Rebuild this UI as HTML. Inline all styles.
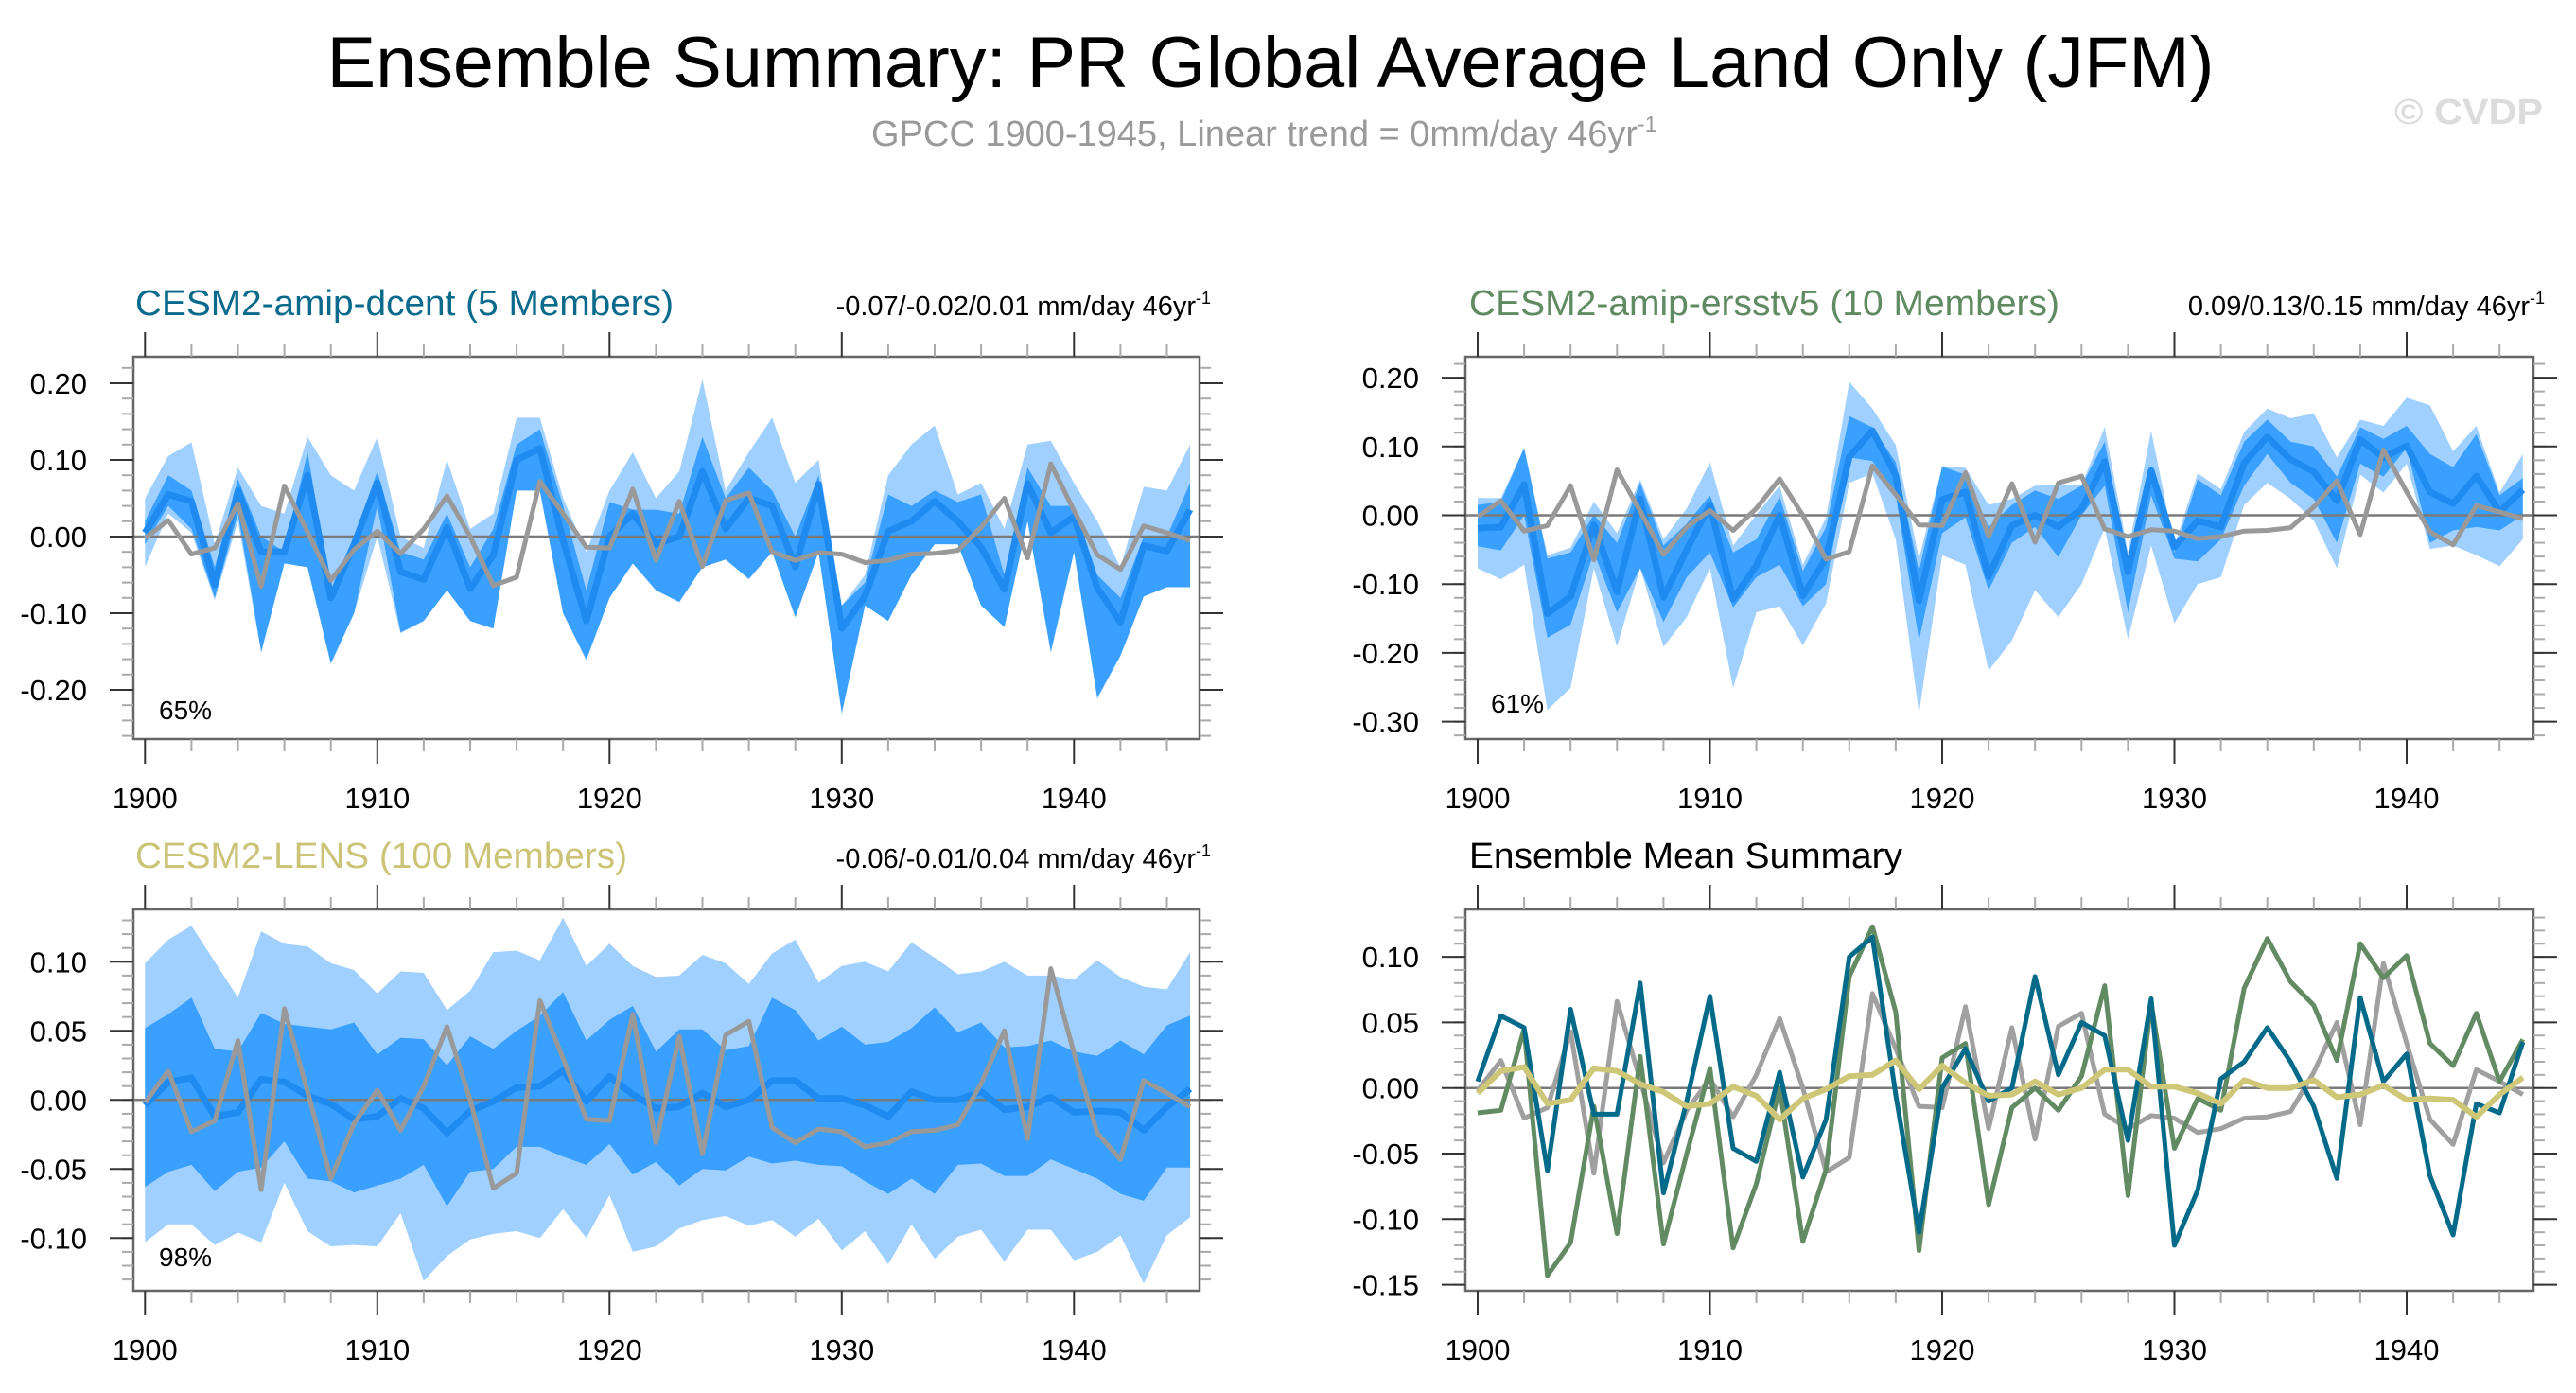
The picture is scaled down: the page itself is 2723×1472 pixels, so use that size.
<!DOCTYPE html>
<html><head><meta charset="utf-8"><style>
html,body{margin:0;padding:0;background:#fff}
svg{display:block;font-family:"Liberation Sans",Arial,sans-serif}
</style></head><body>
<svg id="chart" width="2723" height="1472" viewBox="0 0 2723 1472" xmlns="http://www.w3.org/2000/svg">
<rect x="0" y="0" width="2723" height="1472" fill="#fff"/>
<text x="1343" y="92" font-size="76" text-anchor="middle" textLength="1995" lengthAdjust="spacingAndGlyphs" fill="#000">Ensemble Summary: PR Global Average Land Only (JFM)</text>
<text x="921" y="154" font-size="38" fill="#999">GPCC 1900-1945, Linear trend = 0mm/day 46yr<tspan dy="-15" font-size="23">-1</tspan></text>
<text x="2688" y="131" font-size="38" font-weight="bold" text-anchor="end" fill="#dcdcdc" textLength="157" lengthAdjust="spacingAndGlyphs">© CVDP</text>
</svg>
<script>
const years = [1900,1901,1902,1903,1904,1905,1906,1907,1908,1909,1910,1911,1912,1913,1914,1915,1916,1917,1918,1919,1920,1921,1922,1923,1924,1925,1926,1927,1928,1929,1930,1931,1932,1933,1934,1935,1936,1937,1938,1939,1940,1941,1942,1943,1944,1945];
const obsGPCC = [-0.002,0.021,-0.023,-0.015,0.043,-0.065,0.066,0.006,-0.057,-0.017,0.007,-0.022,0.01,0.053,0,-0.064,-0.053,0.072,0.03,-0.014,-0.015,0.062,-0.031,0.046,-0.039,0.047,0.057,-0.02,-0.031,-0.021,-0.023,-0.034,-0.031,-0.023,-0.022,-0.018,0.012,0.05,-0.028,0.095,0.034,-0.024,-0.043,0.014,0.005,-0.005];
const dcentMean = [0.005,0.055,0.046,-0.063,0.06,-0.02,-0.02,0.08,-0.08,-0.01,0.07,-0.046,-0.056,0.012,-0.068,-0.024,0.10,0.115,-0.005,-0.11,0,0.03,-0.01,0,0.085,0.01,0.05,0.04,-0.04,0.068,-0.12,-0.078,0.007,0.02,0.046,0.02,-0.014,-0.069,0.069,0.005,0.026,-0.067,-0.112,-0.012,-0.019,0.035];
const dcentDarkHi = [0.02,0.08,0.06,-0.04,0.075,0,-0.02,0.11,-0.07,0,0.085,-0.02,-0.03,0.03,-0.04,0.01,0.12,0.14,0.04,-0.07,0.045,0.035,0.035,0.03,0.13,0.05,0.09,0.06,0,0.08,-0.09,-0.06,0.055,0.04,0.06,0.045,0.055,-0.05,0.09,0.04,0.04,-0.05,-0.08,0,0,0.07];
const dcentDarkLo = [-0.01,0.04,0.01,-0.08,0.03,-0.15,-0.035,-0.04,-0.165,-0.1,0.04,-0.125,-0.11,-0.07,-0.11,-0.12,0.06,0.06,-0.1,-0.16,-0.08,-0.035,-0.07,-0.085,-0.04,-0.03,-0.055,-0.02,-0.105,-0.02,-0.23,-0.09,-0.11,-0.05,-0.01,-0.01,-0.09,-0.118,0.02,-0.15,-0.02,-0.21,-0.155,-0.078,-0.066,-0.066];
const dcentLightHi = [0.05,0.105,0.123,-0.01,0.09,0.04,0.03,0.13,0.08,0.06,0.13,0,-0.015,0.1,0.01,0.03,0.155,0.155,0.05,-0.02,0.06,0.11,0.05,0.085,0.205,0.06,0.11,0.155,0.07,0.1,-0.09,-0.05,0.08,0.12,0.145,0.055,0.07,0.01,0.12,0.125,0.07,0.02,-0.04,0.065,0.06,0.12];
const dcentLightLo = [-0.04,0.03,0.005,-0.083,0.02,-0.152,-0.035,-0.04,-0.167,-0.1,0,-0.126,-0.11,-0.07,-0.11,-0.12,0.06,0.06,-0.1,-0.162,-0.08,-0.035,-0.07,-0.086,-0.04,-0.03,-0.056,-0.02,-0.106,-0.02,-0.232,-0.09,-0.11,-0.05,-0.01,-0.01,-0.09,-0.118,0.02,-0.152,-0.02,-0.212,-0.156,-0.078,-0.066,-0.066];
const ersstMean = [-0.019,-0.017,0.045,-0.143,-0.118,-0.014,-0.111,0.024,-0.119,-0.05,0.015,-0.122,-0.073,0,-0.117,-0.062,0.085,0.123,0.058,-0.124,0.023,0.034,-0.089,-0.015,0,-0.017,0.009,0.078,-0.082,0.065,-0.046,-0.008,-0.017,0.076,0.114,0.081,0.063,0.021,0.11,0.084,0.101,0.034,0.017,0.057,0.005,0.037];
const ersstLightHi = [0.025,0.025,0.098,-0.058,-0.047,0.02,-0.026,0.052,-0.035,0.01,0.077,-0.044,0.001,0.043,-0.072,-0.003,0.194,0.155,0.102,-0.063,0.071,0.069,0.015,0.024,0.043,0.045,0.043,0.128,-0.054,0.123,-0.044,0.061,0.038,0.121,0.155,0.141,0.148,0.084,0.139,0.13,0.171,0.16,0.093,0.13,0.033,0.089];
const ersstDarkHi = [0.015,0.02,0.098,-0.063,-0.054,0.001,-0.04,0.047,-0.044,-0.012,0.029,-0.054,-0.035,0.027,-0.081,-0.017,0.144,0.128,0.077,-0.081,0.071,0.059,-0.017,0.015,0.036,0.024,0.043,0.107,-0.077,0.07,-0.054,0.052,0.029,0.107,0.139,0.107,0.1,0.056,0.128,0.111,0.13,0.089,0.07,0.118,0.029,0.054];
const ersstDarkLo = [-0.045,-0.051,0,-0.178,-0.159,-0.054,-0.141,-0.077,-0.155,-0.09,-0.054,-0.134,-0.09,-0.072,-0.132,-0.1,0.084,0.079,0.029,-0.182,-0.026,-0.003,-0.109,-0.04,-0.017,-0.061,0,0.043,-0.141,0.029,-0.063,-0.067,-0.035,0.043,0.089,0.047,0.024,-0.04,0.075,0.056,0.098,-0.04,-0.022,-0.017,-0.022,0];
const ersstLightLo = [-0.077,-0.093,-0.072,-0.283,-0.251,-0.077,-0.191,-0.077,-0.191,-0.148,-0.077,-0.251,-0.141,-0.132,-0.189,-0.128,0.047,0.061,-0.035,-0.288,-0.058,-0.072,-0.226,-0.182,-0.109,-0.148,-0.1,-0.019,-0.18,-0.044,-0.157,-0.1,-0.09,0.015,0.047,0.024,-0.008,-0.077,0.059,0.033,0.075,-0.049,-0.044,-0.058,-0.074,-0.035];
const lensMean = [-0.004,0.013,0.016,-0.012,-0.009,0.015,0.013,0.003,-0.003,-0.014,-0.012,0.001,-0.006,-0.024,-0.008,-0.001,0.009,0.01,0.021,-0.001,0.017,0.004,-0.006,-0.005,0.005,-0.005,0,0.014,0.014,0.001,0.001,-0.004,-0.012,0.006,0,0,0.006,-0.007,-0.005,0.002,-0.009,-0.008,-0.009,-0.022,-0.005,0.008];
const lensLightHi = [0.099,0.116,0.126,0.1,0.074,0.122,0.113,0.111,0.099,0.094,0.077,0.093,0.092,0.065,0.079,0.107,0.108,0.101,0.132,0.097,0.113,0.097,0.089,0.09,0.105,0.099,0.084,0.106,0.116,0.085,0.097,0.1,0.093,0.114,0.103,0.091,0.093,0.1,0.09,0.09,0.087,0.101,0.089,0.082,0.08,0.107];
const lensDarkHi = [0.052,0.062,0.074,0.037,0.035,0.063,0.055,0.053,0.051,0.056,0.033,0.045,0.044,0.025,0.046,0.037,0.05,0.061,0.078,0.043,0.058,0.068,0.035,0.051,0.051,0.036,0.039,0.074,0.065,0.043,0.053,0.04,0.042,0.052,0.067,0.049,0.056,0.038,0.039,0.043,0.035,0.032,0.043,0.033,0.054,0.061];
const lensDarkLo = [-0.063,-0.052,-0.047,-0.066,-0.052,-0.049,-0.03,-0.057,-0.059,-0.067,-0.062,-0.057,-0.047,-0.077,-0.052,-0.05,-0.034,-0.034,-0.041,-0.047,-0.032,-0.054,-0.045,-0.062,-0.05,-0.051,-0.041,-0.046,-0.044,-0.047,-0.048,-0.059,-0.068,-0.057,-0.068,-0.047,-0.046,-0.055,-0.055,-0.043,-0.05,-0.057,-0.068,-0.073,-0.049,-0.049];
const lensLightLo = [-0.103,-0.09,-0.09,-0.105,-0.096,-0.103,-0.06,-0.095,-0.106,-0.105,-0.106,-0.082,-0.131,-0.113,-0.101,-0.097,-0.095,-0.1,-0.079,-0.1,-0.069,-0.11,-0.106,-0.093,-0.087,-0.084,-0.091,-0.087,-0.099,-0.086,-0.109,-0.095,-0.119,-0.09,-0.115,-0.099,-0.094,-0.117,-0.094,-0.094,-0.116,-0.11,-0.098,-0.133,-0.098,-0.085];
const ticks1 = [0.20,0.10,0.00,-0.10,-0.20];
const tickLabels1 = ["0.20","0.10","0.00","-0.10","-0.20"];
const ticks2 = [0.20,0.10,0.00,-0.10,-0.20,-0.30];
const tickLabels2 = ["0.20","0.10","0.00","-0.10","-0.20","-0.30"];
const ticks3 = [0.10,0.05,0.00,-0.05,-0.10];
const tickLabels3 = ["0.10","0.05","0.00","-0.05","-0.10"];
const ticks4 = [0.10,0.05,0.00,-0.05,-0.10,-0.15];
const tickLabels4 = ["0.10","0.05","0.00","-0.05","-0.10","-0.15"];
const xTicks = [1900,1910,1920,1930,1940];
const xTickLabels = ["1900","1910","1920","1930","1940"];

const NS = "http://www.w3.org/2000/svg";
const svg = document.getElementById('chart');
function mk(tag, attrs, parent){
  const e = document.createElementNS(NS, tag);
  for (const k in attrs) e.setAttribute(k, attrs[k]);
  (parent||svg).appendChild(e);
  return e;
}
const C_LIGHT="#a0d0ff", C_DARK="#3aa0ff", C_MEAN="#1f8af0", C_OBS="#999999";

function panel(p){
  const g = mk('g', {});
  
  
  const xs = yr => p.x1900 + (yr - 1900) * p.dx;
  const ys = v => p.y0 - v * p.pxPerUnit;
  const clipId = p.name + '-clip';
  const cp = mk('clipPath', {id: clipId}, g);
  mk('rect', {x:p.left, y:p.top, width:p.right-p.left, height:p.bottom-p.top}, cp);
  const plot = mk('g', {'clip-path':'url(#'+clipId+')'}, g);
  
  
  function band(hi, lo, color, nm){
    let d = '';
    hi.forEach((v,i)=>{ d += (i?'L':'M') + xs(years[i]).toFixed(1) + ',' + ys(v).toFixed(1); });
    for (let i=lo.length-1;i>=0;i--) d += 'L' + xs(years[i]).toFixed(1) + ',' + ys(lo[i]).toFixed(1);
    const e = mk('path', {d: d+'Z', fill: color, stroke:'none'}, plot);
    
    
  }
  function line(vals, color, w, nm){
    const pts = vals.map((v,i)=> xs(years[i]).toFixed(1)+','+ys(v).toFixed(1)).join(' ');
    const e = mk('polyline', {points:pts, fill:'none', stroke:color, 'stroke-width':w, 'stroke-linejoin':'round'}, plot);
    
    
  }
  if (p.bands) {
    band(p.bands[0], p.bands[3], C_LIGHT, 'outer-spread-band');
    band(p.bands[1], p.bands[2], C_DARK, 'inner-spread-band');
  }
  const zl = mk('line', {x1:p.left, x2:p.right, y1:ys(0), y2:ys(0), stroke:'#7a7a7a', 'stroke-width':2.5}, plot);
  
  
  p.lines.forEach(l => line(l.v, l.c, l.w, l.n));
  const fr = mk('rect', {x:p.left, y:p.top, width:p.right-p.left, height:p.bottom-p.top, fill:'none', stroke:'#666', 'stroke-width':2.5}, g);
  
  
  const vTop = (p.y0 - p.top)/p.pxPerUnit, vBot = (p.y0 - p.bottom)/p.pxPerUnit;
  for (let k = Math.ceil(vBot/p.minor - 1e-6); k*p.minor <= vTop + 1e-9; k++){
    const y = ys(k*p.minor);
    mk('line', {x1:p.left-12, x2:p.left, y1:y, y2:y, stroke:'#aaa', 'stroke-width':2}, g);
    mk('line', {x1:p.right, x2:p.right+12, y1:y, y2:y, stroke:'#aaa', 'stroke-width':2}, g);
  }
  p.ticks.forEach((v,i)=>{
    const y = ys(v);
    mk('line', {x1:p.left-25, x2:p.left, y1:y, y2:y, stroke:'#333', 'stroke-width':2}, g);
    mk('line', {x1:p.right, x2:p.right+25, y1:y, y2:y, stroke:'#333', 'stroke-width':2}, g);
    const t = mk('text', {x:p.left-49, y:y+11, 'font-size':31, 'text-anchor':'end', fill:'#000'}, g);
    
    
    t.textContent = p.tickLabels[i];
  });
  years.forEach(yr=>{
    if (yr % 2 !== 0 || yr % 10 === 0) return;
    const x = xs(yr);
    mk('line', {x1:x, x2:x, y1:p.bottom, y2:p.bottom+13, stroke:'#aaa', 'stroke-width':2}, g);
    mk('line', {x1:x, x2:x, y1:p.top-13, y2:p.top, stroke:'#aaa', 'stroke-width':2}, g);
  });
  xTicks.forEach((yr,i)=>{
    const x = xs(yr);
    mk('line', {x1:x, x2:x, y1:p.bottom, y2:p.bottom+26, stroke:'#333', 'stroke-width':2}, g);
    mk('line', {x1:x, x2:x, y1:p.top-26, y2:p.top, stroke:'#333', 'stroke-width':2}, g);
    const t = mk('text', {x:x, y:p.bottom+73, 'font-size':31, 'text-anchor':'middle', fill:'#000'}, g);
    
    
    t.textContent = xTickLabels[i];
  });
  const tt = mk('text', {x:p.titleX, y:p.top-44, 'font-size':38, fill:p.titleColor, textLength:p.titleW, lengthAdjust:'spacingAndGlyphs'}, g);
  
  
  tt.textContent = p.title;
  if (p.trend) {
    const tr = mk('text', {x:p.right+12, y:p.top-44, 'font-size':29, 'text-anchor':'end', fill:'#000'}, g);
    
    
    tr.appendChild(document.createTextNode(p.trend + ' mm/day 46yr'));
    const sup = mk('tspan', {dy:-12, 'font-size':18}, tr);
    sup.textContent = '-1';
  }
  if (p.pct) {
    const pc = mk('text', {x:p.left+27, y:p.pctY, 'font-size':28, fill:'#000'}, g);
    
    
    pc.textContent = p.pct;
  }
}

panel({name:'panel-cesm2-amip-dcent', left:141, right:1268, top:377, bottom:781, x1900:153.3, dx:24.55, y0:567, pxPerUnit:810, minor:0.02,
  ticks:ticks1, tickLabels:tickLabels1, title:'CESM2-amip-dcent (5 Members)', titleX:143, titleW:569, titleColor:'#0a6a8c', trend:'-0.07/-0.02/0.01', pct:'65%', pctY:760,
  bands:[dcentLightHi, dcentDarkHi, dcentDarkLo, dcentLightLo],
  lines:[{v:dcentMean,c:C_MEAN,w:7,n:'ensemble-mean-line'},{v:obsGPCC,c:C_OBS,w:5,n:'gpcc-observed-line'}]});
panel({name:'panel-cesm2-amip-ersstv5', left:1549, right:2678, top:377, bottom:781, x1900:1562, dx:24.55, y0:544.5, pxPerUnit:727, minor:0.02,
  ticks:ticks2, tickLabels:tickLabels2, title:'CESM2-amip-ersstv5 (10 Members)', titleX:1553, titleW:624, titleColor:'#5f8a62', trend:'0.09/0.13/0.15', pct:'61%', pctY:753,
  bands:[ersstLightHi, ersstDarkHi, ersstDarkLo, ersstLightLo],
  lines:[{v:ersstMean,c:C_MEAN,w:7,n:'ensemble-mean-line'},{v:obsGPCC,c:C_OBS,w:5,n:'gpcc-observed-line'}]});
panel({name:'panel-cesm2-lens', left:141, right:1268, top:961, bottom:1364, x1900:153.3, dx:24.55, y0:1162.3, pxPerUnit:1460, minor:0.01,
  ticks:ticks3, tickLabels:tickLabels3, title:'CESM2-LENS (100 Members)', titleX:143, titleW:520, titleColor:'#cbc477', trend:'-0.06/-0.01/0.04', pct:'98%', pctY:1338,
  bands:[lensLightHi, lensDarkHi, lensDarkLo, lensLightLo],
  lines:[{v:lensMean,c:C_MEAN,w:7,n:'ensemble-mean-line'},{v:obsGPCC,c:C_OBS,w:5,n:'gpcc-observed-line'}]});
panel({name:'panel-ensemble-mean-summary', left:1549, right:2678, top:961, bottom:1364, x1900:1562, dx:24.55, y0:1149.7, pxPerUnit:1386, minor:0.01,
  ticks:ticks4, tickLabels:tickLabels4, title:'Ensemble Mean Summary', titleX:1553, titleW:458, titleColor:'#000',
  lines:[{v:obsGPCC,c:'#a0a0a0',w:5,n:'gpcc-observed-line'},{v:ersstMean,c:'#638b63',w:5,n:'ersstv5-mean-line'},{v:dcentMean,c:'#046a8a',w:5,n:'dcent-mean-line'},{v:lensMean,c:'#cfc778',w:6,n:'lens-mean-line'}]});
</script>
</body></html>
